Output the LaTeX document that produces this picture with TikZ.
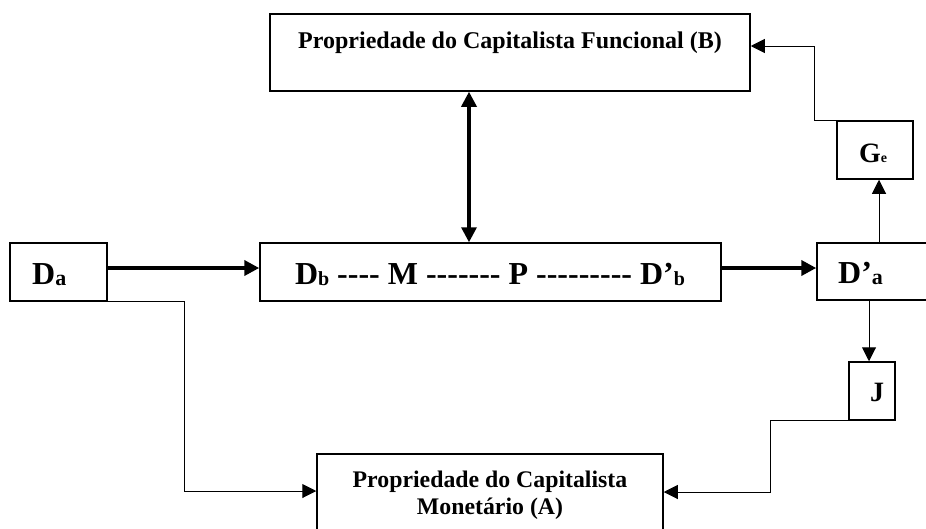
\documentclass[tikz,border=0pt]{standalone}
\usepackage{fontspec}
\setmainfont{Liberation Serif}
\usetikzlibrary{arrows.meta}
\begin{document}
\begin{tikzpicture}[x=1pt,y=-1pt,
  box/.style={draw,line width=1.5pt,inner sep=0pt,rectangle},
  lbl/.style={inner sep=0pt,font=\bfseries},
  thin/.style={line width=1pt,-{Triangle[length=14pt,width=14pt]}},
  fat/.style={line width=4pt,-{Triangle[length=15pt,width=15pt]}},
  dbl/.style={line width=3.3pt,{Triangle[length=15pt,width=15pt]}-{Triangle[length=15pt,width=15pt]}}]
\useasboundingbox (0,0) rectangle (926,528);
% boxes
\node[box,minimum width=480pt,minimum height=77pt] (B) at (510,52.5) {};
\node[box,minimum width=461pt,minimum height=58pt] (M) at (490.5,272) {};
\node[box,minimum width=97pt,minimum height=58pt] (Da) at (58.5,272) {};
\node[box,minimum width=113pt,minimum height=57pt] (Dpa) at (873.5,271.5) {};
\node[box,minimum width=76pt,minimum height=58pt] (Ge) at (875,150) {};
\node[box,minimum width=46pt,minimum height=58pt] (J) at (872,391) {};
\node[box,minimum width=346pt,minimum height=90pt] (A) at (490,499) {};
% texts
\node[lbl,anchor=base,font=\bfseries\fontsize{24}{28}\selectfont] (Bt) at (510,48) {Propriedade do Capitalista Funcional (B)};
\node[lbl,anchor=base,font=\bfseries\fontsize{32}{36}\selectfont] (Mt) at (490,284)
  {D\raisebox{-1pt}{\fontsize{20}{20}\selectfont b} -{}-{}-{}- M -{}-{}-{}-{}-{}-{}- P -{}-{}-{}-{}-{}-{}-{}-{}- D’\raisebox{-1pt}{\fontsize{20}{20}\selectfont b}};
\node[lbl,anchor=base west,font=\bfseries\fontsize{32}{36}\selectfont] (Dat) at (32,284)
  {D\raisebox{-1pt}{\fontsize{22}{22}\selectfont a}};
\node[lbl,anchor=base west,font=\bfseries\fontsize{32}{36}\selectfont] (Dpat) at (838,283)
  {D’\raisebox{-1pt}{\fontsize{22}{22}\selectfont a}};
\node[lbl,anchor=base west,font=\bfseries\fontsize{28}{32}\selectfont] (Get) at (859,162)
  {G\fontsize{14}{14}\selectfont e};
\node[lbl,anchor=base west,font=\bfseries\fontsize{28}{32}\selectfont] (Jt) at (870,401) {J};
\node[lbl,anchor=base,align=center,font=\bfseries\fontsize{23.8}{27}\selectfont] (At) at (490,514)
  {Propriedade do Capitalista\\Monetário (A)};
% helper coordinates
\coordinate (vx) at (469,0);
\coordinate (hy) at (0,268);
\coordinate (gx) at (879,0);
\coordinate (jx) at (869,0);
\coordinate (p1) at (814,46);
\coordinate (q1) at (184,491);
\coordinate (r1) at (770,492);
% connectors
\draw[fat] (Da.east |- hy) -- (M.west |- hy);
\draw[fat] (M.east |- hy) -- (Dpa.west |- hy);
\draw[dbl] (B.south -| vx) -- (M.north -| vx);
\draw[thin] (Dpa.north -| gx) -- (Ge.south -| gx);
\draw[thin] (Dpa.south -| jx) -- (J.north -| jx);
\draw[thin] (Ge.north west) -| (p1) -- (B.east |- p1);
\draw[thin] (Da.south east) -| (q1) -- (A.west |- q1);
\draw[thin] (J.south west) -| (r1) -- (A.east |- r1);
\end{tikzpicture}
\end{document}
